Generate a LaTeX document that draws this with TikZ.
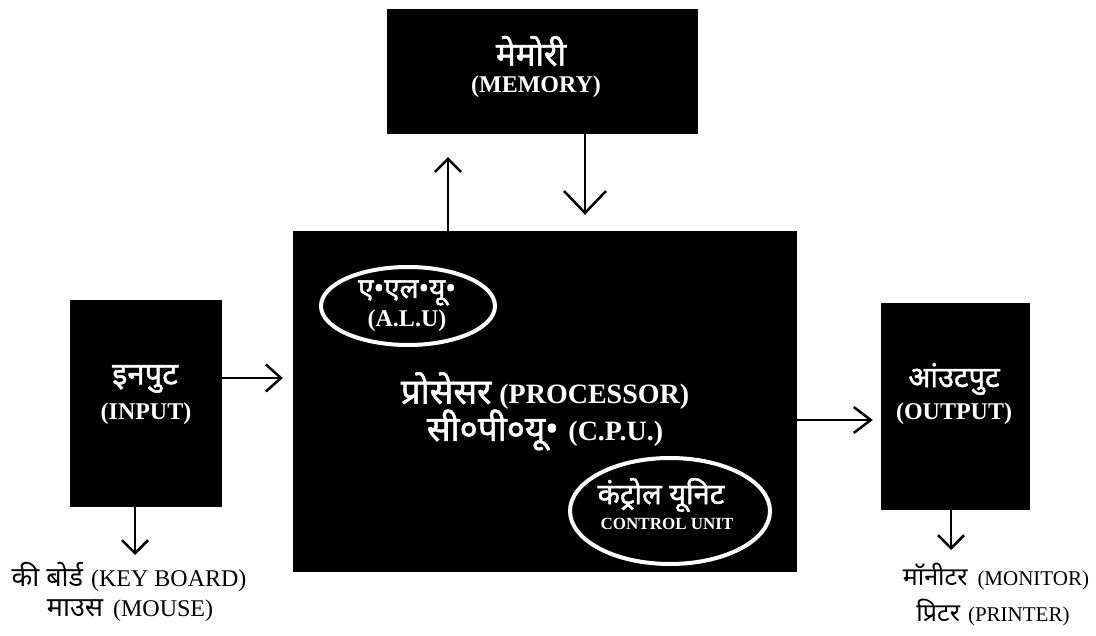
\documentclass[tikz,border=0pt]{standalone}
\usepackage{fontspec}
\setmainfont{Liberation Serif}
\newfontfamily\dev[Script=Devanagari]{Noto Sans}
\newfontfamily\devb[Script=Devanagari,FakeBold=1.6]{Noto Sans}
\usetikzlibrary{arrows.meta,shapes.geometric,calc}
\begin{document}
\begin{tikzpicture}[x=1pt,y=-1pt,
  blk/.style={fill=black, draw=none, inner sep=0pt},
  oval/.style={ellipse, draw=white, line width=4pt, inner sep=0pt},
  wt/.style={text=white, inner sep=0pt, font=\bfseries\fontsize{24}{28}\selectfont},
  dwt/.style={text=white, inner sep=0pt, font=\devb\fontsize{31}{34}\selectfont},
  lbl/.style={text=black, inner sep=0pt},
  arr/.style={line width=2.5pt, -{Straight Barb[length=13pt,width=26pt]}},
  bigarr/.style={line width=2.5pt, -{Straight Barb[length=22pt,width=42pt]}}]
\useasboundingbox (0,0) rectangle (1096,636);
% boxes
\node[blk, minimum width=311pt, minimum height=125pt] (mem) at (542.5,71.5) {};
\node[blk, minimum width=504pt, minimum height=341pt] (cpu) at (545,401.5) {};
\node[blk, minimum width=152pt, minimum height=207pt] (inp) at (146,403.5) {};
\node[blk, minimum width=149pt, minimum height=207pt] (out) at (955.5,406.5) {};
\node[oval, minimum width=174pt, minimum height=78pt] (alu) at (408,306) {};
\node[oval, minimum width=200pt, minimum height=106pt] (cu) at (670,511) {};
% box texts
\node[dwt, font=\devb\fontsize{33}{36}\selectfont] (memA) at (531,51) {मेमोरी};
\node[wt] (memB) at (536,87) {(MEMORY)};
\node[dwt, font=\devb\fontsize{35}{38}\selectfont] (cpuA) at (545,391) {प्रोसेसर\hspace{8pt}{\bfseries\rmfamily\fontsize{28}{30}\selectfont (PROCESSOR)}};
\node[dwt, font=\devb\fontsize{35}{38}\selectfont] (cpuB) at (545,430) {सी०पी०यू•\hspace{10pt}{\bfseries\rmfamily\fontsize{28}{30}\selectfont(C.P.U.)}};
\node[dwt, font=\devb\fontsize{28}{32}\selectfont] (aluA) at (407,293) {ए•एल•यू•};
\node[wt] (aluB) at (407,321) {(A.L.U)};
\node[dwt, font=\devb\fontsize{29}{32}\selectfont] (cuA) at (661,495) {कंट्रोल यूनिट};
\node[wt, font=\bfseries\fontsize{17}{19}\selectfont] (cuB) at (667,524) {CONTROL UNIT};
\node[dwt] (inpA) at (145,379) {इनपुट};
\node[wt] (inpB) at (146,414) {(INPUT)};
\node[dwt, font=\devb\fontsize{29}{32}\selectfont] (outA) at (954,379) {आंउटपुट};
\node[wt] (outB) at (954,414) {(OUTPUT)};
% labels below
\node[lbl, font=\fontsize{24}{26}\selectfont] (kb) at (129,577) {{\dev\fontsize{27}{30}\selectfont की बोर्ड}\hspace{8pt}(KEY BOARD)};
\node[lbl, font=\fontsize{24}{26}\selectfont] (ms) at (130,611) {{\dev\fontsize{27}{30}\selectfont माउस}\hspace{10pt}(MOUSE)};
\node[lbl, font=\fontsize{21}{24}\selectfont] (mon) at (996,577) {{\dev\fontsize{25}{28}\selectfont मॉनीटर}\hspace{10pt}(MONITOR)};
\node[lbl, font=\fontsize{21}{24}\selectfont] (prn) at (993,613) {{\dev\fontsize{25}{28}\selectfont प्रिटर}\hspace{8pt}(PRINTER)};
% arrow ends
\coordinate (kbtip) at (135,555);
\coordinate (montip) at (951,550);
% connectors
\draw[arr, shorten >=23pt] (cpu.north -| 448,0) -- (mem.south -| 448,0);
\draw[bigarr, shorten >=16pt] (mem.south -| 585,0) -- (cpu.north -| 585,0);
\draw[arr, shorten >=10pt, -{Straight Barb[length=15pt,width=27pt]}] (inp.east |- 0,378) -- (cpu.west |- 0,378);
\draw[arr, shorten >=8pt, -{Straight Barb[length=17pt,width=26pt]}] (cpu.east |- 0,420) -- (out.west |- 0,420);
\draw[arr] (inp.south -| kbtip) -- (kbtip);
\draw[arr] (out.south -| montip) -- (montip);
\end{tikzpicture}
\end{document}
